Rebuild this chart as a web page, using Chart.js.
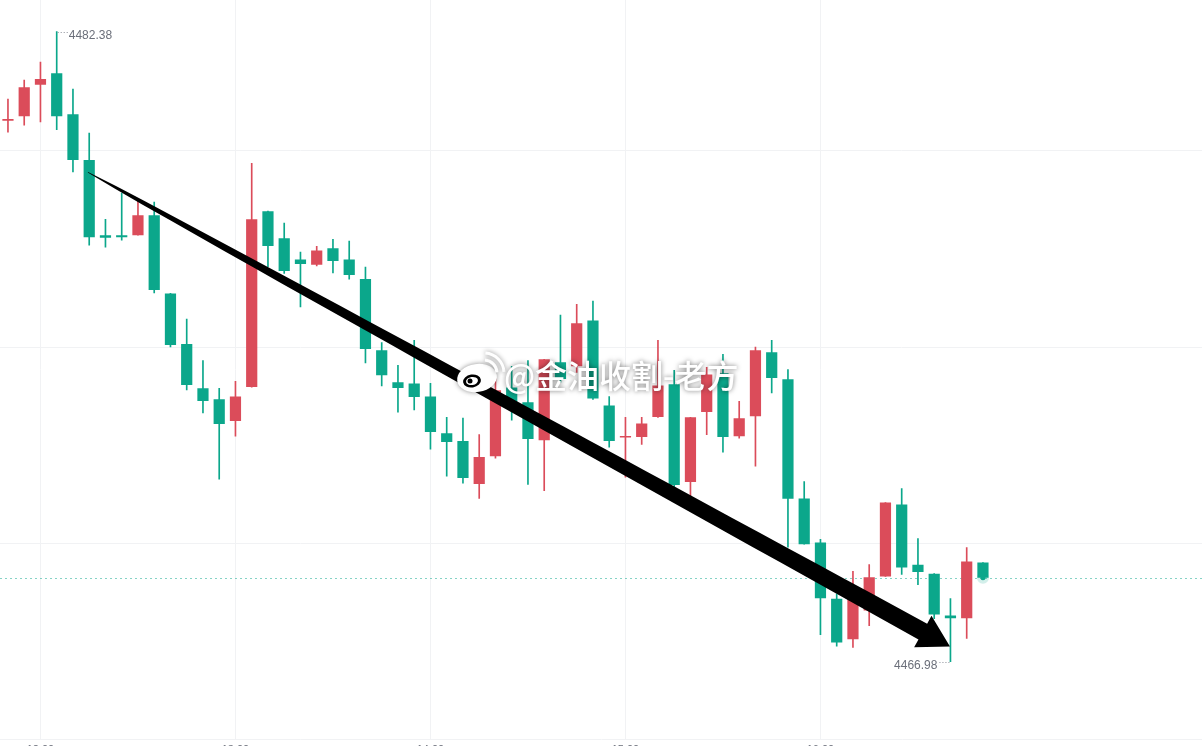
<!DOCTYPE html>
<html>
<head>
<meta charset="utf-8">
<script src="https://cdn.jsdelivr.net/npm/chart.js@4.4.1/dist/chart.umd.min.js"></script>
<style>
  html, body { margin: 0; padding: 0; background: #fff; overflow: hidden; }
  #wrap { position: relative; width: 1202px; height: 761px; }
</style>
</head>
<body>
<div id="wrap"><canvas id="kline"></canvas></div>
<script>
// 5-minute candles
const opens = [
  4480.20, 4480.31, 4481.08, 4481.36, 4480.36, 4479.24, 4477.40, 4477.40, 4477.40, 4477.89,
  4475.98, 4474.74, 4473.66, 4473.39, 4472.86, 4473.69, 4477.99, 4477.33, 4476.81, 4476.68,
  4477.08, 4476.81, 4476.33, 4474.59, 4473.81, 4473.78, 4473.46, 4472.56, 4472.37, 4471.32,
  4472.00, 4473.68, 4473.32, 4472.39, 4474.30, 4474.20, 4475.32, 4473.24, 4472.46, 4472.47,
  4472.96, 4473.76, 4471.37, 4473.08, 4474.03, 4472.49, 4472.98, 4474.54, 4473.88, 4470.97,
  4469.89, 4468.52, 4467.53, 4468.23, 4469.06, 4470.82, 4469.35, 4469.13, 4468.11, 4468.04,
  4469.40
];
const highs = [
  4480.73, 4481.19, 4481.63, 4482.38, 4480.97, 4479.90, 4477.79, 4478.43, 4478.28, 4478.21,
  4475.98, 4475.35, 4474.34, 4473.66, 4473.83, 4479.16, 4477.99, 4477.70, 4476.99, 4477.13,
  4477.30, 4477.26, 4476.62, 4474.78, 4474.22, 4474.83, 4473.78, 4472.95, 4472.93, 4472.53,
  4473.90, 4474.20, 4474.34, 4474.37, 4475.45, 4475.71, 4475.79, 4473.46, 4472.95, 4472.95,
  4474.83, 4474.10, 4472.95, 4474.17, 4474.49, 4473.34, 4474.67, 4474.83, 4474.12, 4471.38,
  4469.97, 4468.64, 4469.19, 4469.35, 4470.87, 4471.21, 4469.99, 4469.13, 4468.52, 4469.77,
  4469.40
];
const lows = [
  4479.92, 4480.09, 4480.17, 4479.98, 4478.95, 4477.16, 4477.11, 4477.28, 4477.40, 4475.99,
  4474.67, 4473.62, 4473.06, 4471.44, 4472.49, 4473.69, 4476.63, 4476.47, 4475.65, 4476.65,
  4476.48, 4476.33, 4474.28, 4473.72, 4473.08, 4473.13, 4472.17, 4471.51, 4471.34, 4470.97,
  4471.95, 4472.88, 4471.31, 4471.16, 4473.81, 4474.05, 4473.39, 4472.22, 4471.49, 4472.29,
  4472.95, 4471.21, 4471.00, 4472.53, 4472.10, 4472.44, 4471.76, 4473.55, 4469.78, 4469.85,
  4467.64, 4467.36, 4467.33, 4467.86, 4469.06, 4469.11, 4468.86, 4468.03, 4466.98, 4467.55,
  4469.03
];
const closes = [
  4480.24, 4481.02, 4481.22, 4480.31, 4479.24, 4477.35, 4477.34, 4477.35, 4477.89, 4476.06,
  4474.72, 4473.74, 4473.35, 4472.79, 4473.46, 4477.79, 4477.14, 4476.53, 4476.70, 4477.03,
  4476.77, 4476.43, 4474.62, 4473.98, 4473.67, 4473.45, 4472.59, 4472.35, 4471.47, 4471.98,
  4473.61, 4473.24, 4472.42, 4474.37, 4473.89, 4475.25, 4473.41, 4472.37, 4472.49, 4472.80,
  4473.73, 4471.30, 4472.95, 4474.00, 4472.47, 4472.93, 4474.59, 4473.91, 4470.96, 4469.85,
  4468.53, 4467.45, 4468.52, 4469.04, 4470.87, 4469.28, 4469.17, 4468.13, 4468.04, 4469.43,
  4469.03
];

const hourLabels = ['12:00', '13:00', '14:00', '15:00', '16:00'];
const hourTickIdx = [2, 14, 26, 38, 50];
const priceGrid = [4479.46, 4474.66, 4469.87];

// hand-drawn trend arrow (candle index / price)
const arrowFrom = { idx: 4.92, price: 4478.94 };
const arrowTo = { idx: 57.97, price: 4467.35 };
const watermark = '@金油收割-老方';

const UP = '#db4c5a';
const DOWN = '#0ba78b';
const GRID = '#f1f2f4';

const candleColors = opens.map((o, i) => closes[i] >= o ? UP : DOWN);
const bodies = opens.map((o, i) => ({ x: i, y: [o, closes[i]] }));
const wicks = lows.map((l, i) => ({ x: i, y: [l, highs[i]] }));

// price line, high/low markers, arrow, watermark
const overlay = {
  id: 'overlay',
  beforeDatasetsDraw(chart) {
    const { ctx, chartArea, scales: { y } } = chart;
    const last = closes[closes.length - 1];
    const py = Math.round(y.getPixelForValue(last)) + 0.5;
    ctx.save();
    ctx.strokeStyle = 'rgba(11,167,139,0.5)';
    ctx.lineWidth = 1;
    ctx.setLineDash([2, 3]);
    ctx.beginPath();
    ctx.moveTo(chartArea.left, py);
    ctx.lineTo(chartArea.right, py);
    ctx.stroke();
    ctx.restore();
  },
  afterDatasetsDraw(chart) {
    const { ctx, scales: { x, y } } = chart;
    ctx.save();

    // high / low labels
    const hi = highs.indexOf(Math.max(...highs));
    const lo = lows.indexOf(Math.min(...lows));
    ctx.font = '12px "Liberation Sans", Arial, sans-serif';
    ctx.fillStyle = '#6b6f7a';
    ctx.strokeStyle = '#8a8e98';
    ctx.lineWidth = 1;
    ctx.setLineDash([1, 2]);
    let hx = x.getPixelForValue(hi), hy = Math.round(y.getPixelForValue(highs[hi])) + 0.5;
    ctx.beginPath(); ctx.moveTo(hx + 1, hy); ctx.lineTo(hx + 11, hy); ctx.stroke();
    ctx.textAlign = 'left'; ctx.textBaseline = 'middle';
    ctx.fillText(highs[hi].toFixed(2), hx + 12, hy + 3);
    let lx = x.getPixelForValue(lo), ly = Math.round(y.getPixelForValue(lows[lo])) + 0.5;
    ctx.beginPath(); ctx.moveTo(lx - 11, ly); ctx.lineTo(lx - 1, ly); ctx.stroke();
    ctx.textAlign = 'right';
    ctx.fillText(lows[lo].toFixed(2), lx - 13, ly + 3);
    ctx.setLineDash([]);

    // last price glow
    const cx = x.getPixelForValue(closes.length - 1);
    const cy = y.getPixelForValue(closes[closes.length - 1]);
    ctx.fillStyle = 'rgba(11,167,139,0.18)';
    ctx.beginPath(); ctx.arc(cx, cy, 6, 0, Math.PI * 2); ctx.fill();
    ctx.fillStyle = DOWN;
    ctx.beginPath(); ctx.arc(cx, cy, 2.5, 0, Math.PI * 2); ctx.fill();

    // tapered arrow
    const p0 = { x: x.getPixelForValue(arrowFrom.idx), y: y.getPixelForValue(arrowFrom.price) };
    const p1 = { x: x.getPixelForValue(arrowTo.idx), y: y.getPixelForValue(arrowTo.price) };
    const len = Math.hypot(p1.x - p0.x, p1.y - p0.y);
    const d = { x: (p1.x - p0.x) / len, y: (p1.y - p0.y) / len };
    const n = { x: -d.y, y: d.x };
    const headLen = 31, headHalf = 18, shaftMax = 18;
    const base = { x: p1.x - d.x * headLen, y: p1.y - d.y * headLen };
    const left = [], right = [];
    for (let k = 0; k <= 30; k++) {
      const t = k / 30;
      const c = { x: p0.x + (base.x - p0.x) * t, y: p0.y + (base.y - p0.y) * t };
      const w = (0.6 + (shaftMax - 0.6) * Math.pow(t, 0.6)) / 2;
      left.push([c.x + n.x * w, c.y + n.y * w]);
      right.push([c.x - n.x * w, c.y - n.y * w]);
    }
    ctx.fillStyle = '#000';
    ctx.beginPath();
    ctx.moveTo(left[0][0], left[0][1]);
    left.forEach(p => ctx.lineTo(p[0], p[1]));
    ctx.lineTo(base.x + n.x * headHalf, base.y + n.y * headHalf);
    ctx.lineTo(p1.x, p1.y);
    ctx.lineTo(base.x - n.x * headHalf, base.y - n.y * headHalf);
    right.reverse().forEach(p => ctx.lineTo(p[0], p[1]));
    ctx.closePath();
    ctx.fill();

    // weibo watermark
    ctx.shadowColor = 'rgba(0,0,0,0.45)';
    ctx.shadowBlur = 5;
    ctx.fillStyle = '#fff';
    ctx.beginPath();
    ctx.ellipse(477, 378, 20, 14, -0.15, 0, Math.PI * 2);
    ctx.fill();
    ctx.strokeStyle = '#fff';
    ctx.lineWidth = 3;
    ctx.beginPath(); ctx.arc(484, 373, 13, -1.5, -0.05); ctx.stroke();
    ctx.beginPath(); ctx.arc(484, 373, 20, -1.5, -0.05); ctx.stroke();
    ctx.shadowBlur = 0;
    ctx.fillStyle = '#000';
    ctx.beginPath(); ctx.ellipse(472, 381, 9, 6.5, -0.15, 0, Math.PI * 2); ctx.fill();
    ctx.fillStyle = '#fff';
    ctx.beginPath(); ctx.ellipse(472, 381, 6, 4, -0.15, 0, Math.PI * 2); ctx.fill();
    ctx.fillStyle = '#000';
    ctx.beginPath(); ctx.arc(470, 381, 2.5, 0, Math.PI * 2); ctx.fill();

    ctx.shadowColor = 'rgba(0,0,0,0.55)';
    ctx.shadowBlur = 5;
    ctx.fillStyle = '#fff';
    ctx.font = '500 32px "Noto Sans CJK SC", sans-serif';
    ctx.textAlign = 'left';
    ctx.textBaseline = 'middle';
    ctx.fillText(watermark, 504, 376);
    ctx.restore();
  }
};

new Chart(document.getElementById('kline'), {
  type: 'bar',
  data: {
    datasets: [
      {
        label: 'body',
        data: bodies,
        backgroundColor: candleColors,
        categoryPercentage: 1,
        barPercentage: 0.69,
        minBarLength: 1.5,
        grouped: false,
        order: 0
      },
      {
        label: 'wick',
        data: wicks,
        backgroundColor: candleColors,
        barThickness: 1,
        grouped: false,
        order: 1
      }
    ]
  },
  options: {
    responsive: true,
    maintainAspectRatio: false,
    animation: false,
    layout: { padding: 0 },
    plugins: { legend: { display: false }, tooltip: { enabled: false } },
    scales: {
      x: {
        type: 'linear',
        min: -0.49,
        max: 73.48,
        offset: false,
        afterBuildTicks: s => { s.ticks = hourTickIdx.map(v => ({ value: v })); },
        ticks: {
          autoSkip: false,
          maxRotation: 0,
          padding: 4,
          color: '#6b6f7a',
          font: { size: 11, family: 'Liberation Sans' },
          callback: v => hourLabels[hourTickIdx.indexOf(v)]
        },
        grid: { color: GRID, drawTicks: false, offset: false },
        border: { color: GRID }
      },
      y: {
        min: 4465.07,
        max: 4483.15,
        afterBuildTicks: s => { s.ticks = priceGrid.map(v => ({ value: v })); },
        ticks: { display: false },
        grid: { color: GRID, drawTicks: false },
        border: { display: false }
      }
    }
  },
  plugins: [overlay]
});
</script>
</body>
</html>
